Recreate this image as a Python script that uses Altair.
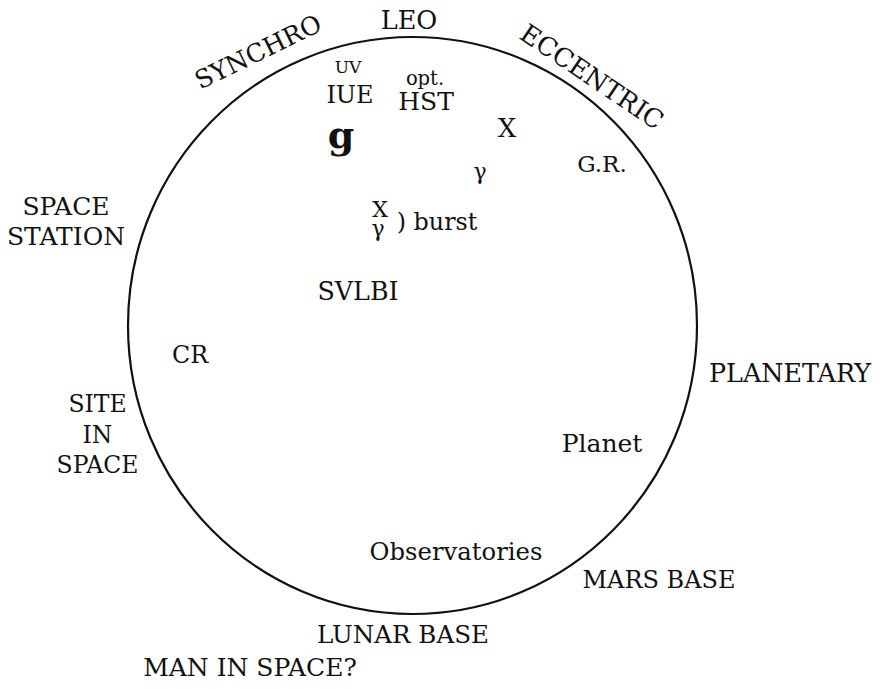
import altair as alt
import pandas as pd

# Label texts, anchor positions (page px: x centre, y baseline), font sizes, rotation
labels = ["LEO", "SYNCHRO", "ECCENTRIC", "UV", "IUE", "opt.", "HST", "X", "γ",
          "G.R.", "X", "γ", ") burst", "SVLBI", "SPACE", "STATION", "CR",
          "SITE", "IN", "SPACE", "PLANETARY", "Planet", "Observatories",
          "MARS BASE", "LUNAR BASE", "MAN IN SPACE?"]
label_x = [409, 258.5, 591.5, 348, 350, 425, 426, 507, 480,
           602, 380, 378, 437, 358, 66, 66, 190,
           97.5, 97.5, 97.5, 790, 602, 456,
           659, 403, 250]
label_y = [29, 52.5, 77.5, 73, 103, 85, 110, 137, 179,
           172, 217, 236, 230, 300, 215, 245, 363,
           412, 443, 473, 382, 452, 560,
           588, 643, 676]
label_size = [25.6, 25.3, 25.8, 17, 24, 19.5, 25, 26, 22,
              23, 22, 22, 23.8, 25.3, 25, 25, 23.8,
              23.5, 23.5, 23.5, 25.4, 25, 24.3,
              24, 24.6, 25]
label_angle = [0, 334, 34, 0, 0, 0, 0, 0, 0,
               0, 0, 0, 0, 0, 0, 0, 0,
               0, 0, 0, 0, 0, 0,
               0, 0, 0]
label_baseline = ["alphabetic", "middle", "middle"] + ["alphabetic"] * 23

big_g = ["g"]
big_g_x = [341]
big_g_y = [148]
big_g_size = [38]

# Ring outline: centre and extent (page px)
ring_cx = [412.5]
ring_cy = [325.5]
ring_w = [569]
ring_h = [577]

df_text = pd.DataFrame({"text": labels, "x": label_x, "y": label_y,
                        "size": label_size, "angle": label_angle,
                        "baseline": label_baseline})
df_g = pd.DataFrame({"text": big_g, "x": big_g_x, "y": big_g_y, "size": big_g_size})
df_ring = pd.DataFrame({"x": ring_cx, "y": ring_cy})

W, H = 864, 673
xs = alt.Scale(domain=[8, 8 + W], range=[0, W])
ys = alt.Scale(domain=[8 + H, 8], range=[H, 0])
X = lambda: alt.X("x:Q", scale=xs, axis=None)
Y = lambda: alt.Y("y:Q", scale=ys, axis=None)

d = max(ring_w[0], ring_h[0])
rx = ring_w[0] / d
ry = ring_h[0] / d
ellipse_path = (f"M {-rx} 0 A {rx} {ry} 0 1 0 {rx} 0 "
                f"A {rx} {ry} 0 1 0 {-rx} 0 Z")

ring = alt.Chart(df_ring).mark_point(
    shape=ellipse_path, filled=False, color="#111111", strokeWidth=2.2, opacity=1
).encode(x=X(), y=Y(), size=alt.value(d * d))

font = "DejaVu Serif"

def text_layer(bl):
    sub = df_text[df_text["baseline"] == bl]
    return alt.Chart(sub).mark_text(
        font=font, align="center", baseline=bl, color="#111111"
    ).encode(
        x=X(), y=Y(), text="text:N",
        size=alt.Size("size:Q", scale=None, legend=None),
        angle=alt.Angle("angle:Q", scale=None),
    )

g_layer = alt.Chart(df_g).mark_text(
    font=font, align="center", baseline="alphabetic", fontWeight="bold", color="#111111"
).encode(x=X(), y=Y(), text="text:N",
         size=alt.Size("size:Q", scale=None, legend=None))

chart = alt.layer(ring, text_layer("alphabetic"), text_layer("middle"), g_layer).properties(
    width=W, height=H, padding=0, autosize=alt.AutoSizeParams(type="none"),
    background="white"
).configure_view(stroke=None)

chart.save("out.html", embed_options={"renderer": "svg", "actions": False})
